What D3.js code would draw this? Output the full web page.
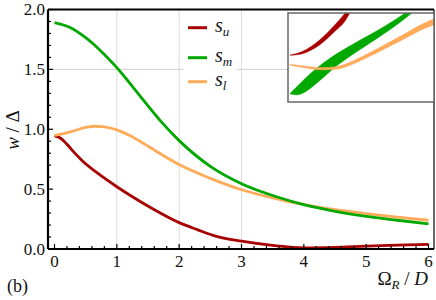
<!DOCTYPE html>
<html lang="en">
    <head>
        <title>w / Delta vs Omega_R / D</title>
        <script src="https://d3js.org/d3.v7.min.js"></script>
        <style>
            body { margin: 0; background: #fff; }
        </style>
    </head>
    <body>

    <div id="mainDiv"></div>

        <script type="text/javascript">
            // values
            const xs_u = [0, 0.1, 0.2, 0.3, 0.45, 0.73, 1.0, 1.27, 1.56, 2.0, 2.3, 2.6, 3.0, 3.5, 4.0, 4.5, 5.0, 5.5, 6.0]
            const s_u  = [0.945, 0.925, 0.875, 0.815, 0.735, 0.618, 0.52, 0.43, 0.34, 0.22, 0.16, 0.105, 0.065, 0.03, 0.01, 0.014, 0.024, 0.032, 0.038]
            const xs_m = [0, 0.25, 0.5, 0.65, 0.8, 1.0, 1.2, 1.4, 1.7, 2.0, 2.5, 3.0, 3.6, 4.0, 4.5, 5.0, 5.5, 6.0]
            const s_m  = [1.89, 1.85, 1.765, 1.70, 1.625, 1.515, 1.39, 1.26, 1.07, 0.905, 0.69, 0.545, 0.43, 0.37, 0.315, 0.272, 0.24, 0.21]
            const xs_l = [0, 0.15, 0.3, 0.5, 0.65, 0.8, 1.0, 1.2, 1.37, 1.7, 2.0, 2.5, 3.0, 3.6, 4.0, 4.5, 5.0, 5.5, 6.0]
            const s_l  = [0.948, 0.963, 0.985, 1.015, 1.025, 1.02, 0.995, 0.95, 0.90, 0.795, 0.705, 0.59, 0.495, 0.415, 0.37, 0.328, 0.295, 0.266, 0.24]

            const xTicks = [0, 1, 2, 3, 4, 5, 6]
            const yTicks = [0, 0.5, 1.0, 1.5, 2.0]
            const xGrid = [1, 2, 3]
            const yGrid = [1.5]

            // inset bands, normalized inset units (0..1 across the inset box)
            const inU_u  = [0.014, 0.10, 0.214, 0.329, 0.386, 0.42, 0.5]
            const inLo_u = [0.525, 0.543, 0.637, 0.806, 0.90, 0.99, 1.2]
            const inHi_u = [0.527, 0.569, 0.693, 0.881, 0.99, 1.06, 1.25]
            const inU_m  = [0.014, 0.06, 0.12, 0.2, 0.3, 0.44, 0.56, 0.67, 0.78, 0.9]
            const inLo_m = [0.09, 0.08, 0.115, 0.215, 0.36, 0.53, 0.66, 0.78, 0.91, 1.07]
            const inHi_m = [0.095, 0.17, 0.27, 0.385, 0.505, 0.645, 0.755, 0.86, 0.975, 1.12]
            const inU_l  = [0.014, 0.123, 0.238, 0.329, 0.443, 0.557, 0.671, 0.80, 0.94, 1.0]
            const inLo_l = [0.414, 0.383, 0.361, 0.367, 0.424, 0.51, 0.605, 0.712, 0.828, 0.865]
            const inHi_l = [0.424, 0.403, 0.387, 0.397, 0.46, 0.552, 0.653, 0.768, 0.892, 0.935]

            const colors = { u: '#a80000', m: '#00a800', l: '#ffab5a' }

            const width = 436
            const height = 300
            const pLeft = 48, pRight = 434, pTop = 9.5, pBottom = 249

            const svg = d3.select('#mainDiv').append('svg')
                .attr('width', width)
                .attr('height', height)
                .attr('font-family', 'Liberation Serif')
                .attr('fill', '#111')

            const xScale = d3.scaleLinear().domain([0, 6]).range([54.5, 428.5])
            const yScale = d3.scaleLinear().domain([0, 2]).range([pBottom, pTop])

            // grid
            svg.append('g').selectAll('line').data(xGrid).join('line')
                .attr('x1', d => xScale(d)).attr('x2', d => xScale(d))
                .attr('y1', pTop).attr('y2', pBottom)
                .attr('stroke', '#dcdcdc').attr('stroke-width', 1)
            svg.append('g').selectAll('line').data(yGrid).join('line')
                .attr('x1', pLeft).attr('x2', pRight)
                .attr('y1', d => yScale(d)).attr('y2', d => yScale(d))
                .attr('stroke', '#cfcfcf').attr('stroke-width', 1)

            // curves
            const line = d3.line()
                .x(d => xScale(d[0]))
                .y(d => yScale(d[1]))
                .curve(d3.curveMonotoneX)

            const series = [
                { key: 'u', xs: xs_u, ys: s_u },
                { key: 'l', xs: xs_l, ys: s_l },
                { key: 'm', xs: xs_m, ys: s_m }
            ]
            series.forEach(s => {
                svg.append('path')
                    .datum(s.xs.map((x, i) => [x, s.ys[i]]))
                    .attr('d', line)
                    .attr('fill', 'none')
                    .attr('stroke', colors[s.key])
                    .attr('stroke-width', 2.8)
            })

            // frame
            const axisG = svg.append('g')
            axisG.append('line').attr('x1', pLeft).attr('x2', pRight).attr('y1', pTop).attr('y2', pTop)
                .attr('stroke', '#000').attr('stroke-width', 2.2)
            axisG.append('line').attr('x1', pRight).attr('x2', pRight).attr('y1', pTop).attr('y2', pBottom)
                .attr('stroke', '#000').attr('stroke-width', 1.2)
            axisG.append('line').attr('x1', pLeft).attr('x2', pRight).attr('y1', pBottom).attr('y2', pBottom)
                .attr('stroke', '#000').attr('stroke-width', 2.2)
            axisG.append('line').attr('x1', pLeft).attr('x2', pLeft).attr('y1', pTop).attr('y2', pBottom)
                .attr('stroke', '#000').attr('stroke-width', 2.2)

            // ticks
            const xMinor = d3.range(0, 30.5).map(i => i * 0.2)
            const yMinor = d3.range(0, 20.5).map(i => i * 0.1)
            axisG.append('g').selectAll('line').data(xMinor).join('line')
                .attr('x1', d => xScale(d)).attr('x2', d => xScale(d))
                .attr('y1', pBottom).attr('y2', (d, i) => pBottom - (i % 5 === 0 ? 5 : 3))
                .attr('stroke', '#000').attr('stroke-width', 1.2)
            axisG.append('g').selectAll('line').data(yMinor).join('line')
                .attr('x1', pLeft).attr('x2', (d, i) => pLeft + (i % 5 === 0 ? 5 : 3))
                .attr('y1', d => yScale(d)).attr('y2', d => yScale(d))
                .attr('stroke', '#000').attr('stroke-width', 1.2)

            axisG.append('g').selectAll('text').data(xTicks).join('text')
                .attr('x', d => xScale(d)).attr('y', 267)
                .attr('text-anchor', 'middle').attr('font-size', 17)
                .text(d => d)
            axisG.append('g').selectAll('text').data(yTicks).join('text')
                .attr('x', 45).attr('y', d => yScale(d) + 5.5)
                .attr('text-anchor', 'end').attr('font-size', 17)
                .text(d => d.toFixed(1))

            // axis labels
            const yl = svg.append('text')
                .attr('transform', 'translate(19,130) rotate(-90)')
                .attr('text-anchor', 'middle').attr('font-size', 19)
            yl.append('tspan').attr('font-style', 'italic').text('w')
            yl.append('tspan').text(' / Δ')

            const xl = svg.append('text')
                .attr('x', 428).attr('y', 285)
                .attr('text-anchor', 'end').attr('font-size', 19)
            xl.append('tspan').text('Ω')
            xl.append('tspan').attr('font-style', 'italic').attr('font-size', 13).attr('dy', 4).text('R')
            xl.append('tspan').attr('dy', -4).text(' / ')
            xl.append('tspan').attr('font-style', 'italic').text('D')

            svg.append('text').attr('x', 7).attr('y', 292).attr('font-size', 18).text('(b)')

            // legend
            const legend = svg.append('g')
            legend.append('rect').attr('x', 183).attr('y', 14).attr('width', 54).attr('height', 82).attr('fill', '#fff')
            const legItems = [
                { key: 'u', sub: 'u', y: 27.7 },
                { key: 'm', sub: 'm', y: 57.7 },
                { key: 'l', sub: 'l', y: 81.7 }
            ]
            legItems.forEach(it => {
                legend.append('line').attr('x1', 188).attr('x2', 207).attr('y1', it.y).attr('y2', it.y)
                    .attr('stroke', colors[it.key]).attr('stroke-width', 3)
                const t = legend.append('text').attr('x', 215).attr('y', it.y + 4).attr('font-size', 20)
                    .attr('font-style', 'italic')
                t.append('tspan').text('s')
                t.append('tspan').attr('font-size', 13).attr('dy', 4).text(it.sub)
            })

            // inset
            const inset = { x0: 288, x1: 434, y0: 13, y1: 102 }
            const iu = d3.scaleLinear().domain([0, 1]).range([inset.x0, inset.x1])
            const iv = d3.scaleLinear().domain([0, 1]).range([inset.y1, inset.y0])
            svg.append('rect').attr('x', inset.x0).attr('y', inset.y0)
                .attr('width', inset.x1 - inset.x0).attr('height', inset.y1 - inset.y0)
                .attr('fill', '#fff')
            svg.append('clipPath').attr('id', 'insetClip').append('rect')
                .attr('x', inset.x0).attr('y', inset.y0)
                .attr('width', inset.x1 - inset.x0).attr('height', inset.y1 - inset.y0)
            const ig = svg.append('g').attr('clip-path', 'url(#insetClip)')
            const band = d3.area()
                .x(d => iu(d[0]))
                .y0(d => iv(d[1]))
                .y1(d => iv(d[2]))
                .curve(d3.curveMonotoneX)
            const bands = [
                { key: 'u', us: inU_u, lo: inLo_u, hi: inHi_u },
                { key: 'm', us: inU_m, lo: inLo_m, hi: inHi_m },
                { key: 'l', us: inU_l, lo: inLo_l, hi: inHi_l }
            ]
            bands.forEach(b => {
                ig.append('path')
                    .datum(b.us.map((u, i) => [u, b.lo[i], b.hi[i]]))
                    .attr('d', band)
                    .attr('fill', colors[b.key])
                    .attr('stroke', colors[b.key]).attr('stroke-width', 0.4)
            })
            svg.append('rect').attr('x', inset.x0).attr('y', inset.y0)
                .attr('width', inset.x1 - inset.x0).attr('height', inset.y1 - inset.y0)
                .attr('fill', 'none').attr('stroke', '#666').attr('stroke-width', 1.5)
        </script>
    </body>
</html>
